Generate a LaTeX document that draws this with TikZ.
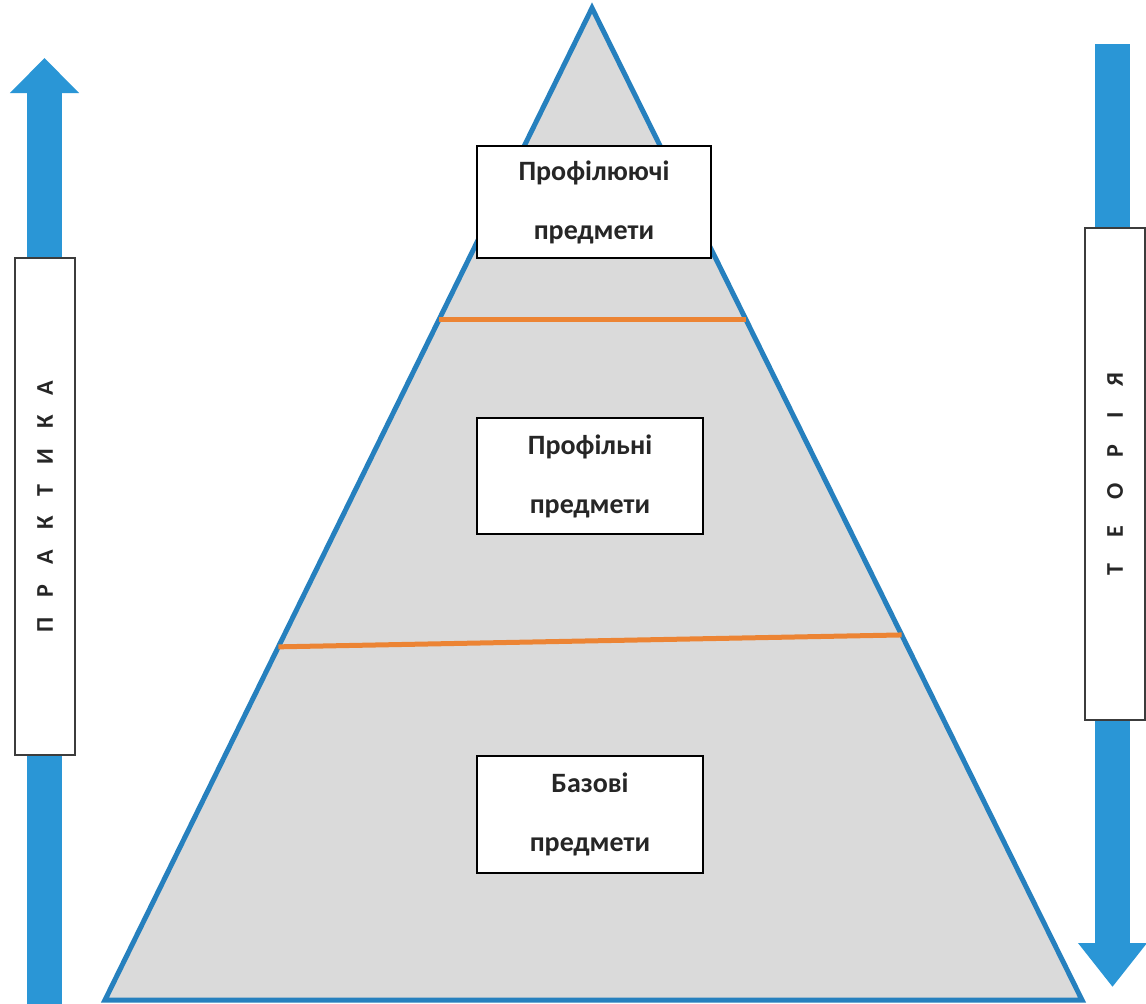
\documentclass[tikz,border=0pt]{standalone}
\usepackage{fontspec}
\setmainfont{Carlito}
\usetikzlibrary{calc,arrows.meta}
\definecolor{arrowblue}{RGB}{42,150,214}
\definecolor{triblue}{RGB}{38,128,190}
\definecolor{trifill}{RGB}{218,218,218}
\definecolor{lineorange}{RGB}{236,132,52}
\definecolor{textgray}{RGB}{38,38,38}
\definecolor{sideborder}{RGB}{60,60,60}
\begin{document}
\begin{tikzpicture}[x=1pt,y=-1pt,
  bigarrowL/.style={draw=arrowblue,line width=35pt,-{Triangle[width=67pt,length=35pt,fill=arrowblue]}},
  bigarrowR/.style={draw=arrowblue,line width=35pt,-{Triangle[width=66pt,length=44pt,fill=arrowblue]}},
  pyramid/.style={draw=triblue,fill=trifill,line width=5pt,line join=miter},
  layerline/.style={draw=lineorange,line width=5pt},
  levelbox/.style={draw=black,fill=white,line width=1.4pt,inner sep=0pt,align=center,
    text=textgray,font=\bfseries\fontsize{28}{59}\selectfont},
  sidebox/.style={draw=sideborder,fill=white,line width=1.4pt,inner sep=0pt,rotate=90,
    minimum height=60pt,text=textgray,font=\bfseries\fontsize{24}{28}\selectfont}]
\useasboundingbox[fill=white] (0,0) rectangle (1146,1004);
% pyramid
\coordinate (apex) at (592,8);
\coordinate (bl) at (105,1000);
\coordinate (br) at (1082,1000);
\path[pyramid] (apex) -- (br) -- (bl) -- cycle;
% layer lines
\coordinate (u1) at ($(apex)!0.3145!(bl)$);
\coordinate (u2) at ($(apex)!0.3145!(br)$);
\coordinate (l1) at ($(apex)!0.644!(bl)$);
\coordinate (l2) at ($(apex)!0.632!(br)$);
\draw[layerline] (u1) -- (u2);
\draw[layerline] (l1) -- (l2);
% side arrows
\coordinate (lbot) at (44.5,1004);
\coordinate (ltip) at (44.5,58);
\draw[bigarrowL] (lbot) -- (ltip);
\coordinate (rtop) at (1112.5,44);
\coordinate (rtip) at (1112.5,987);
\draw[bigarrowR] (rtop) -- (rtip);
% side boxes
\node[sidebox,minimum width=497pt] (prakt) at (45,506.5)
  {П\hspace{20pt}Р\hspace{20pt}А\hspace{20pt}К\hspace{20pt}Т\hspace{20pt}И\hspace{20pt}К\hspace{20pt}А};
\node[sidebox,minimum width=492pt] (teor) at (1115,474)
  {Т\hspace{26pt}Е\hspace{26pt}О\hspace{26pt}Р\hspace{26pt}І\hspace{26pt}Я};
% level boxes
\node[levelbox,minimum width=234pt,minimum height=112pt] (top) at (594,202)
  {Профілюючі\\предмети};
\node[levelbox,minimum width=226pt,minimum height=116pt] (mid) at (590,476)
  {Профільні\\предмети};
\node[levelbox,minimum width=226pt,minimum height=117pt] (base) at (590,814.5)
  {Базові\\предмети};
\end{tikzpicture}
\end{document}
